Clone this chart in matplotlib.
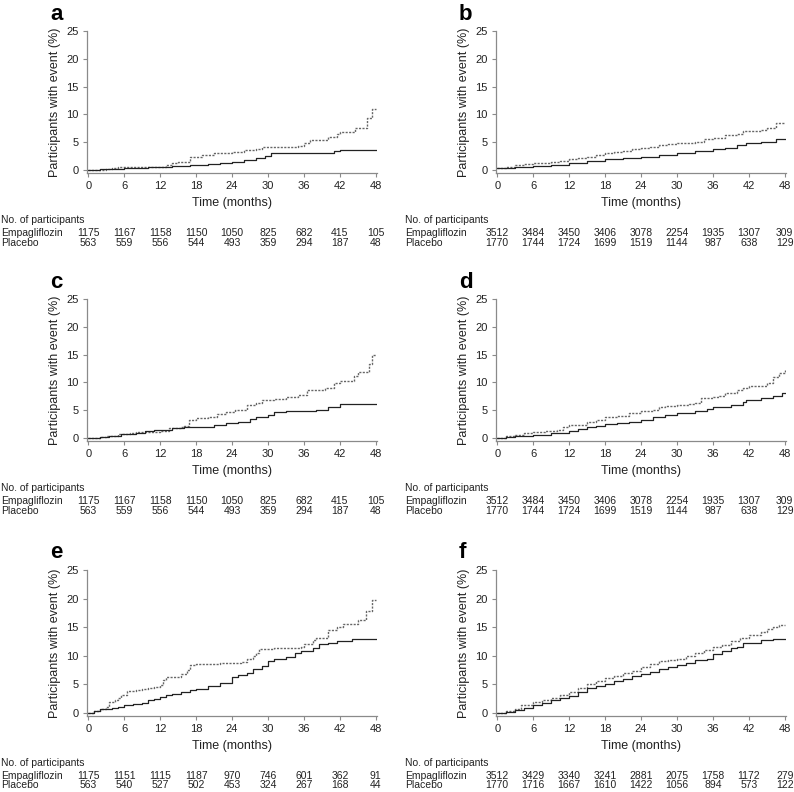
import matplotlib
matplotlib.use("Agg")
import matplotlib.pyplot as plt
import matplotlib.transforms as mtransforms

plt.rcParams["font.family"] = ["Liberation Sans", "DejaVu Sans"]

# -------------------------------
# DATA
# -------------------------------

months = [0, 6, 12, 18, 24, 30, 36, 42, 48]
panel_letters = ["a", "b", "c", "d", "e", "f"]

# at-risk tables
risk_empa_small = [1175, 1167, 1158, 1150, 1050, 825, 682, 415, 105]
risk_plac_small = [563, 559, 556, 544, 493, 359, 294, 187, 48]
risk_empa_big = [3512, 3484, 3450, 3406, 3078, 2254, 1935, 1307, 309]
risk_plac_big = [1770, 1744, 1724, 1699, 1519, 1144, 987, 638, 129]
risk_empa_e = [1175, 1151, 1115, 1187, 970, 746, 601, 362, 91]
risk_plac_e = [563, 540, 527, 502, 453, 324, 267, 168, 44]
risk_empa_f = [3512, 3429, 3340, 3241, 2881, 2075, 1758, 1172, 279]
risk_plac_f = [1770, 1716, 1667, 1610, 1422, 1056, 894, 573, 122]

# cumulative incidence curves
a_plac_t = [0, 3, 4, 5, 12, 13, 14, 15, 17, 19, 21, 24, 26, 28, 29, 35, 36, 37, 40, 41.5, 42, 44.5, 46.5, 47.3, 48]
a_plac_v = [0, 0.2, 0.35, 0.5, 0.6, 0.8, 1.2, 1.5, 2.3, 2.6, 3.1, 3.2, 3.5, 3.8, 4.1, 4.3, 4.8, 5.3, 5.9, 6.4, 6.8, 7.6, 9.3, 11.0, 11.0]
a_empa_t = [0, 2, 3.5, 6, 10, 14, 17, 20, 22, 24, 26, 28, 29.5, 30.5, 40, 41, 42, 48]
a_empa_v = [0, 0.1, 0.2, 0.4, 0.5, 0.7, 0.9, 1.0, 1.2, 1.5, 1.8, 2.1, 2.5, 3.1, 3.1, 3.4, 3.6, 3.6]

b_plac_t = [0, 1.5, 3, 4.5, 6, 7.5, 9, 10.5, 12, 13.5, 15, 16.5, 18, 19.5, 21, 22.5, 24, 25.5, 27, 28.5,
            30, 31.5, 33, 34.5, 36, 37.5, 38, 40, 41, 42, 44, 45, 46.5, 48]
b_plac_v = [0.3, 0.6, 0.8, 1.0, 1.2, 1.3, 1.4, 1.6, 2.0, 2.1, 2.4, 2.7, 3.0, 3.2, 3.4, 3.7, 3.9, 4.1, 4.5, 4.6,
            4.8, 4.9, 5.1, 5.6, 5.7, 5.8, 6.2, 6.5, 7.0, 7.0, 7.1, 7.6, 8.5, 8.5]
b_empa_t = [0, 3, 6, 9, 12, 15, 18, 21, 24, 27, 30, 33, 36, 38, 40, 41.5, 44, 46.5, 48]
b_empa_v = [0.3, 0.5, 0.7, 0.9, 1.2, 1.6, 2.0, 2.1, 2.4, 2.7, 3.1, 3.4, 3.8, 4.0, 4.4, 4.8, 5.0, 5.5, 5.5]

c_plac_t = [0, 2, 3, 5, 7, 8, 12, 13.5, 15.5, 16, 16.8, 18, 20, 21.5, 23, 24.5, 26.5, 28, 29, 31, 33, 35,
            36.5, 39.5, 41, 42, 44.3, 45, 46.8, 47.3, 48]
c_plac_v = [0, 0.1, 0.3, 0.7, 0.9, 1.0, 1.3, 1.7, 1.9, 2.2, 3.2, 3.5, 3.8, 4.3, 4.6, 5.0, 5.9, 6.3, 6.8, 7.0, 7.4, 7.7,
            8.7, 9.0, 9.8, 10.3, 11.1, 11.8, 13.3, 15.0, 15.0]
c_empa_t = [0, 2, 3.5, 5.5, 8, 9.5, 11, 13, 14, 16, 20, 21, 23, 25, 27, 28, 30, 31, 33, 38, 40, 42, 48]
c_empa_v = [0, 0.1, 0.3, 0.7, 0.9, 1.2, 1.4, 1.5, 1.7, 2.0, 2.0, 2.3, 2.6, 2.9, 3.4, 3.8, 4.2, 4.7, 4.9, 5.1, 5.5, 6.1, 6.1]

d_plac_t = [0, 1.5, 3, 4.5, 6, 8, 10, 11, 12, 13.5, 15, 16.5, 18, 20, 22, 24, 26, 27, 28, 30, 32, 33, 34, 36,
            37, 38, 40, 41, 42, 44, 45, 46, 47, 48]
d_plac_v = [0, 0.3, 0.6, 0.9, 1.1, 1.3, 1.5, 1.9, 2.3, 2.4, 2.8, 3.2, 3.8, 4.0, 4.4, 4.9, 5.0, 5.5, 5.7, 6.0, 6.1, 6.3, 7.1, 7.4,
            7.6, 8.0, 8.6, 9.0, 9.3, 9.3, 9.8, 11.0, 11.6, 12.2]
d_empa_t = [0, 1.5, 3, 6, 9, 12, 13.5, 15, 16.5, 18, 20, 22, 24, 26, 28, 30, 33, 35, 36, 39, 41, 41.5, 44, 46, 47.5, 48]
d_empa_v = [0, 0.2, 0.4, 0.6, 0.9, 1.3, 1.6, 1.9, 2.2, 2.5, 2.7, 2.9, 3.2, 3.8, 4.1, 4.4, 4.8, 5.2, 5.6, 6.0, 6.4, 6.9, 7.2, 7.5, 8.0, 8.0]

e_plac_t = [0, 1, 2, 3, 3.5, 4.5, 5, 5.5, 6.5, 8, 9, 10, 11, 12, 12.5, 13, 14.5, 15.5, 16.5, 17, 18, 22, 25.5, 26.5,
            27.5, 28, 28.5, 31, 35.5, 36, 37.5, 38, 40, 41.5, 42.5, 45, 46.3, 47.3, 48]
e_plac_v = [0, 0.4, 0.7, 1.0, 1.9, 2.3, 2.6, 3.2, 3.8, 4.0, 4.2, 4.4, 4.6, 4.8, 5.8, 6.2, 6.3, 6.8, 7.5, 8.3, 8.5, 8.8, 8.9, 9.5,
            10.0, 10.5, 11.1, 11.4, 11.5, 12.0, 12.7, 13.1, 14.5, 15.0, 15.6, 16.3, 17.9, 19.8, 19.8]
e_empa_t = [0, 1, 2, 4, 5, 6, 7.5, 9, 10, 11, 12, 13, 14, 15.5, 17, 18, 20, 22, 24, 25, 26.5, 27.5, 29, 30, 31, 33,
            34.5, 35.5, 37.5, 38.5, 40, 41.5, 44, 48]
e_empa_v = [0, 0.3, 0.6, 0.8, 1.0, 1.3, 1.6, 1.8, 2.3, 2.5, 2.7, 3.1, 3.3, 3.6, 4.0, 4.2, 4.7, 5.3, 6.2, 6.6, 7.0, 7.7, 8.2, 9.0, 9.5, 9.8,
            10.4, 10.9, 11.3, 12.0, 12.2, 12.6, 13.0, 13.0]

f_plac_t = [0, 1.5, 3, 4, 6, 7.5, 9, 10.5, 12, 13.5, 15, 16.5, 18, 19.5, 21, 22.5, 24, 25.5, 27, 28.5, 30, 31.5, 33,
            34.5, 36, 37.5, 39, 40.5, 42, 43, 44, 45, 46, 47, 48]
f_plac_v = [0, 0.3, 0.6, 1.3, 1.9, 2.3, 2.6, 3.1, 3.7, 4.3, 5.1, 5.6, 6.1, 6.5, 6.9, 7.4, 8.0, 8.5, 9.0, 9.2, 9.5, 9.9, 10.5,
            11.0, 11.5, 11.9, 12.5, 13.1, 13.6, 13.7, 14.2, 14.6, 15.0, 15.3, 15.3]
f_empa_t = [0, 1.5, 3, 4.5, 6, 7.5, 9, 10.5, 12, 13.5, 15, 16.5, 18, 19.5, 21, 22.5, 24, 25.5, 27, 28.5, 30, 31.5, 33,
            35, 36, 37.5, 39, 40, 41, 42, 44, 46, 48]
f_empa_v = [0, 0.2, 0.5, 0.9, 1.3, 1.8, 2.2, 2.6, 3.0, 3.6, 4.3, 4.7, 5.1, 5.5, 6.0, 6.4, 6.8, 7.2, 7.6, 8.0, 8.4, 8.8, 9.2,
            9.5, 10.3, 10.8, 11.4, 11.5, 12.3, 12.3, 12.8, 13.0, 13.0]

W, H = 794, 792

# pixel boxes for each panel: left, right, top, bottom
boxes = {
    "a": (87, 377, 31, 173),
    "b": (496, 786, 31, 173),
    "c": (87, 377, 299, 441),
    "d": (496, 786, 299, 441),
    "e": (87, 377, 570, 716),
    "f": (496, 786, 570, 716),
}

curves = {
    "a": (a_empa_t, a_empa_v, a_plac_t, a_plac_v, risk_empa_small, risk_plac_small),
    "b": (b_empa_t, b_empa_v, b_plac_t, b_plac_v, risk_empa_big, risk_plac_big),
    "c": (c_empa_t, c_empa_v, c_plac_t, c_plac_v, risk_empa_small, risk_plac_small),
    "d": (d_empa_t, d_empa_v, d_plac_t, d_plac_v, risk_empa_big, risk_plac_big),
    "e": (e_empa_t, e_empa_v, e_plac_t, e_plac_v, risk_empa_e, risk_plac_e),
    "f": (f_empa_t, f_empa_v, f_plac_t, f_plac_v, risk_empa_f, risk_plac_f),
}

GREY = "#8a8a8a"
TXT = "#222222"
TABLE_FS = 7.5


def fy(px):
    return 1 - px / H


def draw_panel(fig, letter):
    left, right, top, bottom = boxes[letter]
    ax = fig.add_axes([left / W, fy(bottom), (right - left) / W, (bottom - top) / H])
    et, ev, pt, pv, re, rp = curves[letter]

    ax.step(pt, pv, where="post", color="#666666", lw=1.0, linestyle=(0, (1.5, 1)))
    ax.step(et, ev, where="post", color="#222222", lw=0.9)

    ax.set_xlim(-0.2, 48.2)
    ax.set_ylim(-0.55, 25)
    ax.set_xticks(months)
    ax.set_yticks([0, 5, 10, 15, 20, 25])
    for s in ["top", "right"]:
        ax.spines[s].set_visible(False)
    for s in ["left", "bottom"]:
        ax.spines[s].set_color(GREY)
        ax.spines[s].set_linewidth(0.9)
    ax.tick_params(colors=GREY, labelcolor=TXT, labelsize=8, length=3, width=0.8, pad=3)
    ax.set_ylabel("Participants with event (%)", fontsize=9, color=TXT, labelpad=4)

    # panel letter
    fig.text((left - 37) / W, fy(top - 17), letter, fontsize=16, fontweight="bold",
             ha="left", va="center", color="black")

    # x-axis title and at-risk table
    trans = mtransforms.blended_transform_factory(ax.transData, fig.transFigure)
    fig.text((left + right) / 2 / W, fy(bottom + 30), "Time (months)", fontsize=9,
             ha="center", va="center", color=TXT)
    xlab = 1 if left < 400 else 405
    fig.text(xlab / W, fy(bottom + 47), "No. of participants", fontsize=TABLE_FS,
             ha="left", va="center", color=TXT)
    fig.text(xlab / W, fy(bottom + 60), "Empagliflozin", fontsize=TABLE_FS,
             ha="left", va="center", color=TXT)
    fig.text(xlab / W, fy(bottom + 69.5), "Placebo", fontsize=TABLE_FS,
             ha="left", va="center", color=TXT)
    for m, n1, n2 in zip(months, re, rp):
        ax.text(m, fy(bottom + 60), str(n1), transform=trans, fontsize=TABLE_FS,
                ha="center", va="center", color=TXT)
        ax.text(m, fy(bottom + 69.5), str(n2), transform=trans, fontsize=TABLE_FS,
                ha="center", va="center", color=TXT)
    return ax


def main():
    fig = plt.figure(figsize=(W / 100, H / 100), dpi=100)
    for letter in panel_letters:
        draw_panel(fig, letter)
    fig.savefig("out.png", dpi=100)


if __name__ == "__main__":
    main()
